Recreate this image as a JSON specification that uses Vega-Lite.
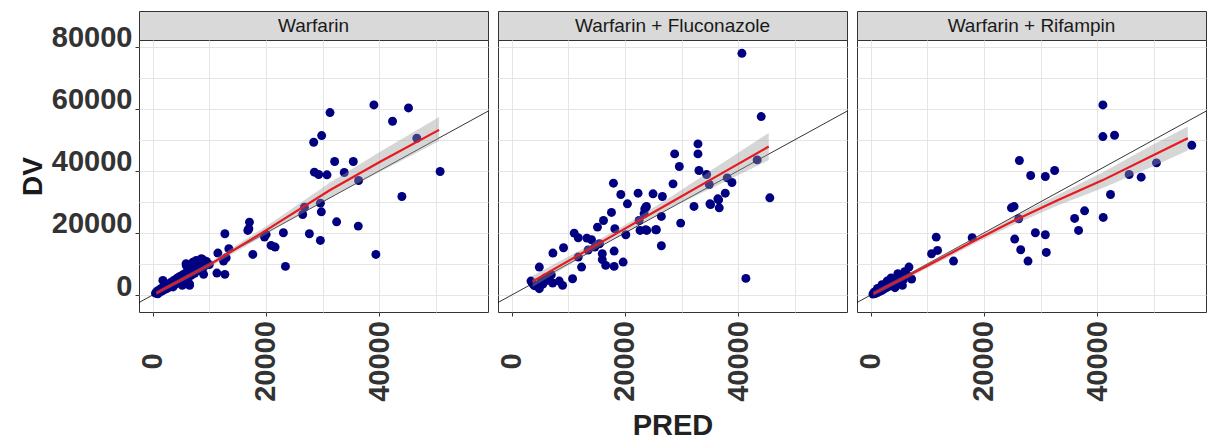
{
"$schema":"https://vega.github.io/schema/vega-lite/v6.json",
"background":"white",
"padding":{"left":18,"top":10,"right":0,"bottom":0},
"config":{"font":"Liberation Sans","view":{"stroke":"#333333","strokeWidth":1}},
"datasets":{
"idl":[{"PRED":-3000,"DV":-3000},{"PRED":62000,"DV":62000}],
"p1":[
{"PRED":39060,"DV":61210},{"PRED":45170,"DV":60250},{"PRED":31310,"DV":58750},{"PRED":42350,"DV":55960},{"PRED":29840,"DV":51350},{"PRED":28430,"DV":49200},{"PRED":46640,"DV":50490},{"PRED":32130,"DV":42990},{"PRED":35420,"DV":42990},{"PRED":50750,"DV":39770},{"PRED":28550,"DV":39560},{"PRED":29310,"DV":38810},{"PRED":30780,"DV":38700},{"PRED":33830,"DV":39450},{"PRED":36360,"DV":36880},{"PRED":44000,"DV":31730},{"PRED":26790,"DV":28300},{"PRED":29610,"DV":29590},{"PRED":26490,"DV":25940},{"PRED":29780,"DV":26800},{"PRED":32480,"DV":23580},{"PRED":36300,"DV":22190},{"PRED":27670,"DV":19720},{"PRED":29610,"DV":17580},{"PRED":23080,"DV":20050},{"PRED":39410,"DV":13080},{"PRED":23440,"DV":9220},{"PRED":20030,"DV":19510},{"PRED":19740,"DV":18650},{"PRED":20910,"DV":15970},{"PRED":21620,"DV":15440},{"PRED":17090,"DV":23480},{"PRED":16980,"DV":21330},{"PRED":16800,"DV":20800},{"PRED":17680,"DV":13080},{"PRED":12750,"DV":19720},{"PRED":13450,"DV":14900},{"PRED":11510,"DV":13510},{"PRED":12980,"DV":12010},{"PRED":12510,"DV":10930},{"PRED":11340,"DV":7080},{"PRED":12750,"DV":6650},{"PRED":8870,"DV":11360},{"PRED":7700,"DV":11150},{"PRED":5930,"DV":9540},{"PRED":6810,"DV":9000},{"PRED":8990,"DV":6650},{"PRED":6520,"DV":3110},{"PRED":5230,"DV":3110},
{"PRED":500,"DV":600},{"PRED":700,"DV":1100},{"PRED":900,"DV":400},{"PRED":1000,"DV":1500},{"PRED":1200,"DV":900},{"PRED":1400,"DV":2000},{"PRED":1600,"DV":1300},{"PRED":1800,"DV":2400},{"PRED":2000,"DV":1700},{"PRED":2200,"DV":2800},{"PRED":2400,"DV":2000},{"PRED":2600,"DV":3300},{"PRED":2800,"DV":2400},{"PRED":3000,"DV":3800},{"PRED":3200,"DV":2800},{"PRED":3400,"DV":4300},{"PRED":3600,"DV":3200},{"PRED":3800,"DV":4800},{"PRED":4000,"DV":3500},{"PRED":4300,"DV":5400},{"PRED":4500,"DV":4100},{"PRED":4800,"DV":6000},{"PRED":5000,"DV":3700},{"PRED":5300,"DV":6500},{"PRED":5600,"DV":5000},{"PRED":5900,"DV":7200},{"PRED":6200,"DV":5600},{"PRED":6500,"DV":8000},{"PRED":6800,"DV":6300},{"PRED":7100,"DV":8800},{"PRED":7400,"DV":7000},{"PRED":7800,"DV":9500},{"PRED":8200,"DV":8000},{"PRED":8600,"DV":10300},{"PRED":9000,"DV":9000},{"PRED":9500,"DV":10800},{"PRED":10000,"DV":9800},{"PRED":5900,"DV":10100},{"PRED":7100,"DV":10600},{"PRED":8600,"DV":11700},{"PRED":3600,"DV":2600},{"PRED":1800,"DV":4700},{"PRED":6500,"DV":3600}
],
"p2":[
{"PRED":40650,"DV":77830},{"PRED":44060,"DV":57460},{"PRED":45580,"DV":31300},{"PRED":41350,"DV":5360},{"PRED":32890,"DV":48670},{"PRED":32890,"DV":45450},{"PRED":28780,"DV":45450},{"PRED":29600,"DV":41380},{"PRED":33070,"DV":40090},{"PRED":34420,"DV":38810},{"PRED":34890,"DV":35590},{"PRED":38060,"DV":37730},{"PRED":38890,"DV":36230},{"PRED":37710,"DV":32800},{"PRED":36540,"DV":30660},{"PRED":35010,"DV":29370},{"PRED":36650,"DV":28090},{"PRED":32190,"DV":28520},{"PRED":28490,"DV":35800},{"PRED":24960,"DV":32590},{"PRED":26610,"DV":31730},{"PRED":22320,"DV":32800},{"PRED":23790,"DV":28520},{"PRED":23380,"DV":26160},{"PRED":17970,"DV":36020},{"PRED":19270,"DV":32370},{"PRED":20440,"DV":29370},{"PRED":17620,"DV":26590},{"PRED":16210,"DV":24010},{"PRED":15150,"DV":21870},{"PRED":11040,"DV":19940},{"PRED":11750,"DV":18440},{"PRED":13270,"DV":18330},{"PRED":14100,"DV":17800},{"PRED":14680,"DV":15440},{"PRED":18210,"DV":21330},{"PRED":20150,"DV":19400},{"PRED":22670,"DV":20800},{"PRED":23850,"DV":20800},{"PRED":25550,"DV":21010},{"PRED":26430,"DV":25300},{"PRED":26430,"DV":15870},{"PRED":29840,"DV":23160},{"PRED":9160,"DV":15220},{"PRED":7280,"DV":13510},{"PRED":16000,"DV":13300},{"PRED":18090,"DV":14150},{"PRED":16000,"DV":11400},{"PRED":16600,"DV":9540},{"PRED":18090,"DV":9220},{"PRED":19680,"DV":10610},{"PRED":12340,"DV":9000},{"PRED":10750,"DV":5250},{"PRED":8400,"DV":4500},{"PRED":8990,"DV":3110},{"PRED":7230,"DV":3860},{"PRED":4880,"DV":9000},{"PRED":3410,"DV":4500},{"PRED":4880,"DV":2040},{"PRED":6340,"DV":4720},{"PRED":11750,"DV":12220},{"PRED":22500,"DV":24010},{"PRED":23500,"DV":27760},{"PRED":43350,"DV":43520},{"PRED":36400,"DV":30990},{"PRED":35120,"DV":29160},{"PRED":23660,"DV":28100},{"PRED":25430,"DV":21030},{"PRED":23660,"DV":21030},{"PRED":4000,"DV":3000},{"PRED":5500,"DV":3500},{"PRED":6000,"DV":5600},{"PRED":7000,"DV":6500},{"PRED":5200,"DV":4300},{"PRED":3700,"DV":3700},{"PRED":13500,"DV":14500},{"PRED":15500,"DV":16500}
],
"p3":[
{"PRED":41000,"DV":61210},{"PRED":41000,"DV":51030},{"PRED":43060,"DV":51460},{"PRED":56690,"DV":48240},{"PRED":50460,"DV":42560},{"PRED":45640,"DV":38810},{"PRED":47760,"DV":37950},{"PRED":42350,"DV":32370},{"PRED":41060,"DV":24980},{"PRED":37770,"DV":27120},{"PRED":36010,"DV":24660},{"PRED":36710,"DV":20800},{"PRED":26260,"DV":43310},{"PRED":28250,"DV":38480},{"PRED":30840,"DV":38160},{"PRED":32480,"DV":40090},{"PRED":24850,"DV":28090},{"PRED":25320,"DV":28520},{"PRED":26140,"DV":24550},{"PRED":25430,"DV":18010},{"PRED":29080,"DV":20050},{"PRED":30840,"DV":19400},{"PRED":26490,"DV":14580},{"PRED":27780,"DV":10930},{"PRED":31010,"DV":13720},{"PRED":17920,"DV":18440},{"PRED":14630,"DV":10930},{"PRED":11570,"DV":18650},{"PRED":11810,"DV":14360},{"PRED":10750,"DV":13290},{"PRED":6760,"DV":9000},{"PRED":7230,"DV":5150},{"PRED":4290,"DV":2360},
{"PRED":400,"DV":300},{"PRED":600,"DV":900},{"PRED":800,"DV":500},{"PRED":1000,"DV":1300},{"PRED":1200,"DV":800},{"PRED":1400,"DV":1700},{"PRED":1600,"DV":1200},{"PRED":1800,"DV":2200},{"PRED":2000,"DV":1500},{"PRED":2200,"DV":2600},{"PRED":2400,"DV":2000},{"PRED":2600,"DV":3100},{"PRED":2800,"DV":2400},{"PRED":3000,"DV":3500},{"PRED":3200,"DV":2800},{"PRED":3500,"DV":4100},{"PRED":3800,"DV":3300},{"PRED":4100,"DV":4700},{"PRED":4400,"DV":3800},{"PRED":4700,"DV":5300},{"PRED":5000,"DV":4400},{"PRED":5400,"DV":6000},{"PRED":5800,"DV":5000},{"PRED":6300,"DV":6800},{"PRED":1200,"DV":2100},{"PRED":2000,"DV":3300},{"PRED":2900,"DV":4500},{"PRED":3600,"DV":5500},{"PRED":4800,"DV":6900},{"PRED":5600,"DV":3100},{"PRED":6000,"DV":7500}
],
"f1":[{"PRED":650,"fit":640,"lo":40,"hi":1240},{"PRED":10000,"fit":9700,"lo":8900,"hi":10500},{"PRED":20000,"fit":20800,"lo":19500,"hi":22100},{"PRED":31190,"fit":33660,"lo":31260,"hi":36060},{"PRED":40000,"fit":42760,"lo":39560,"hi":45960},{"PRED":50570,"fit":53180,"lo":49600,"hi":57300}],
"f2":[{"PRED":3690,"fit":4400,"lo":2600,"hi":6200},{"PRED":12000,"fit":13050,"lo":11750,"hi":14350},{"PRED":20000,"fit":21380,"lo":20180,"hi":22580},{"PRED":28000,"fit":29710,"lo":27910,"hi":31510},{"PRED":36000,"fit":38040,"lo":35040,"hi":41040},{"PRED":45390,"fit":47810,"lo":43410,"hi":52210}],
"f3":[{"PRED":480,"fit":450,"lo":-250,"hi":1150},{"PRED":10000,"fit":9400,"lo":8600,"hi":10200},{"PRED":17800,"fit":17000,"lo":16000,"hi":18000},{"PRED":24560,"fit":23300,"lo":22100,"hi":24500},{"PRED":33000,"fit":30500,"lo":28800,"hi":32200},{"PRED":41000,"fit":37000,"lo":34500,"hi":39500},{"PRED":49800,"fit":44900,"lo":41400,"hi":48400},{"PRED":56000,"fit":50500,"lo":46500,"hi":54300}]
},
"hconcat":[
{"spacing":0,"bounds":"flush","vconcat":[
 {"width":349,"height":29,"data":{"values":[{"t":"Warfarin"}]},"mark":{"type":"text","fontSize":19,"color":"#1a1a1a","font":"Liberation Sans"},"encoding":{"text":{"field":"t"}},"view":{"fill":"#d9d9d9","stroke":"#333333"}},
 {"width":349,"height":272,
  "encoding":{"x":{"field":"PRED","type":"quantitative","scale":{"domain":[-2414,59207],"nice":false,"zero":false},
   "axis":{"values":[0,10000,20000,30000,40000,50000],"format":"d","labelExpr":"datum.value % 20000 === 0 ? datum.label : ''","grid":true,"gridColor":"#e5e5e5","domain":false,"tickSize":4,"tickColor":{"condition":{"test":"datum.value % 20000 !== 0","value":"rgba(0,0,0,0)"},"value":"#333333"},"labelAngle":270,"labelAlign":"center","labelBaseline":"middle","labelPadding":45,"labelFontSize":29,"labelFontWeight":"bold","labelColor":"#333333","labelOverlap":false,"labelFlush":false,"title":null}}},
  "layer":[
   {"data":{"name":"p1"},"mark":{"type":"circle","size":80,"color":"#000080","opacity":1},
    "encoding":{"y":{"field":"DV","type":"quantitative","scale":{"domain":[-5466,82122],"nice":false,"zero":false},
     "axis":{"values":[0,10000,20000,30000,40000,50000,60000,70000,80000],"format":"d","labelExpr":"datum.value % 20000 === 0 ? datum.label : ''","grid":true,"gridColor":"#e5e5e5","domain":false,"tickSize":4,"tickColor":{"condition":{"test":"datum.value % 20000 !== 0","value":"rgba(0,0,0,0)"},"value":"#333333"},"labelPadding":3,"labelBaseline":"alphabetic","labelFontSize":29,"labelFontWeight":"bold","labelColor":"#333333","labelOverlap":false,"labelFlush":false,"title":"DV","titleFontSize":28,"titleFontWeight":"bold","titleColor":"#1a1a1a","titlePadding":4}}}},
   {"data":{"name":"idl"},"mark":{"type":"line","color":"#000000","strokeWidth":0.8,"clip":true},
    "encoding":{"y":{"field":"DV","type":"quantitative","scale":{"domain":[-5466,82122],"nice":false,"zero":false},
     "axis":{"values":[0,10000,20000,30000,40000,50000,60000,70000,80000],"format":"d","labelExpr":"datum.value % 20000 === 0 ? datum.label : ''","grid":true,"gridColor":"#e5e5e5","domain":false,"tickSize":4,"tickColor":{"condition":{"test":"datum.value % 20000 !== 0","value":"rgba(0,0,0,0)"},"value":"#333333"},"labelPadding":3,"labelBaseline":"alphabetic","labelFontSize":29,"labelFontWeight":"bold","labelColor":"#333333","labelOverlap":false,"labelFlush":false,"title":"DV","titleFontSize":28,"titleFontWeight":"bold","titleColor":"#1a1a1a","titlePadding":4}}}},
   {"data":{"name":"f1"},"mark":{"type":"area","color":"#999999","opacity":0.4},
    "encoding":{"y":{"field":"lo","type":"quantitative","scale":{"domain":[-5466,82122],"nice":false,"zero":false},
     "axis":{"values":[0,10000,20000,30000,40000,50000,60000,70000,80000],"format":"d","labelExpr":"datum.value % 20000 === 0 ? datum.label : ''","grid":true,"gridColor":"#e5e5e5","domain":false,"tickSize":4,"tickColor":{"condition":{"test":"datum.value % 20000 !== 0","value":"rgba(0,0,0,0)"},"value":"#333333"},"labelPadding":3,"labelBaseline":"alphabetic","labelFontSize":29,"labelFontWeight":"bold","labelColor":"#333333","labelOverlap":false,"labelFlush":false,"title":"DV","titleFontSize":28,"titleFontWeight":"bold","titleColor":"#1a1a1a","titlePadding":4}},"y2":{"field":"hi"}}},
   {"data":{"name":"f1"},"mark":{"type":"line","color":"#e8191f","strokeWidth":2.2},
    "encoding":{"y":{"field":"fit","type":"quantitative","scale":{"domain":[-5466,82122],"nice":false,"zero":false},
     "axis":{"values":[0,10000,20000,30000,40000,50000,60000,70000,80000],"format":"d","labelExpr":"datum.value % 20000 === 0 ? datum.label : ''","grid":true,"gridColor":"#e5e5e5","domain":false,"tickSize":4,"tickColor":{"condition":{"test":"datum.value % 20000 !== 0","value":"rgba(0,0,0,0)"},"value":"#333333"},"labelPadding":3,"labelBaseline":"alphabetic","labelFontSize":29,"labelFontWeight":"bold","labelColor":"#333333","labelOverlap":false,"labelFlush":false,"title":"DV","titleFontSize":28,"titleFontWeight":"bold","titleColor":"#1a1a1a","titlePadding":4}}}}
  ]}
]},
{"spacing":0,"bounds":"flush","vconcat":[
 {"width":349,"height":29,"data":{"values":[{"t":"Warfarin + Fluconazole"}]},"mark":{"type":"text","fontSize":19,"color":"#1a1a1a","font":"Liberation Sans"},"encoding":{"text":{"field":"t"}},"view":{"fill":"#d9d9d9","stroke":"#333333"}},
 {"width":349,"height":272,
  "encoding":{"x":{"field":"PRED","type":"quantitative","scale":{"domain":[-2414,59207],"nice":false,"zero":false},
   "axis":{"values":[0,10000,20000,30000,40000,50000],"format":"d","labelExpr":"datum.value % 20000 === 0 ? datum.label : ''","grid":true,"gridColor":"#e5e5e5","domain":false,"tickSize":4,"tickColor":{"condition":{"test":"datum.value % 20000 !== 0","value":"rgba(0,0,0,0)"},"value":"#333333"},"labelAngle":270,"labelAlign":"center","labelBaseline":"middle","labelPadding":45,"labelFontSize":29,"labelFontWeight":"bold","labelColor":"#333333","labelOverlap":false,"labelFlush":false,"title":"PRED","titleFontSize":29,"titleFontWeight":"bold","titleColor":"#222222","titlePadding":10}}},
  "layer":[
   {"data":{"name":"p2"},"mark":{"type":"circle","size":80,"color":"#000080","opacity":1},
    "encoding":{"y":{"field":"DV","type":"quantitative","scale":{"domain":[-5466,82122],"nice":false,"zero":false},
     "axis":{"values":[0,10000,20000,30000,40000,50000,60000,70000,80000],"grid":true,"gridColor":"#e5e5e5","labels":false,"ticks":false,"domain":false,"title":null}}}},
   {"data":{"name":"idl"},"mark":{"type":"line","color":"#000000","strokeWidth":0.8,"clip":true},
    "encoding":{"y":{"field":"DV","type":"quantitative","scale":{"domain":[-5466,82122],"nice":false,"zero":false},
     "axis":{"values":[0,10000,20000,30000,40000,50000,60000,70000,80000],"grid":true,"gridColor":"#e5e5e5","labels":false,"ticks":false,"domain":false,"title":null}}}},
   {"data":{"name":"f2"},"mark":{"type":"area","color":"#999999","opacity":0.4},
    "encoding":{"y":{"field":"lo","type":"quantitative","scale":{"domain":[-5466,82122],"nice":false,"zero":false},
     "axis":{"values":[0,10000,20000,30000,40000,50000,60000,70000,80000],"grid":true,"gridColor":"#e5e5e5","labels":false,"ticks":false,"domain":false,"title":null}},"y2":{"field":"hi"}}},
   {"data":{"name":"f2"},"mark":{"type":"line","color":"#e8191f","strokeWidth":2.2},
    "encoding":{"y":{"field":"fit","type":"quantitative","scale":{"domain":[-5466,82122],"nice":false,"zero":false},
     "axis":{"values":[0,10000,20000,30000,40000,50000,60000,70000,80000],"grid":true,"gridColor":"#e5e5e5","labels":false,"ticks":false,"domain":false,"title":null}}}}
  ]}
]},
{"spacing":0,"bounds":"flush","vconcat":[
 {"width":349,"height":29,"data":{"values":[{"t":"Warfarin + Rifampin"}]},"mark":{"type":"text","fontSize":19,"color":"#1a1a1a","font":"Liberation Sans"},"encoding":{"text":{"field":"t"}},"view":{"fill":"#d9d9d9","stroke":"#333333"}},
 {"width":349,"height":272,
  "encoding":{"x":{"field":"PRED","type":"quantitative","scale":{"domain":[-2414,59207],"nice":false,"zero":false},
   "axis":{"values":[0,10000,20000,30000,40000,50000],"format":"d","labelExpr":"datum.value % 20000 === 0 ? datum.label : ''","grid":true,"gridColor":"#e5e5e5","domain":false,"tickSize":4,"tickColor":{"condition":{"test":"datum.value % 20000 !== 0","value":"rgba(0,0,0,0)"},"value":"#333333"},"labelAngle":270,"labelAlign":"center","labelBaseline":"middle","labelPadding":45,"labelFontSize":29,"labelFontWeight":"bold","labelColor":"#333333","labelOverlap":false,"labelFlush":false,"title":null}}},
  "layer":[
   {"data":{"name":"p3"},"mark":{"type":"circle","size":80,"color":"#000080","opacity":1},
    "encoding":{"y":{"field":"DV","type":"quantitative","scale":{"domain":[-5466,82122],"nice":false,"zero":false},
     "axis":{"values":[0,10000,20000,30000,40000,50000,60000,70000,80000],"grid":true,"gridColor":"#e5e5e5","labels":false,"ticks":false,"domain":false,"title":null}}}},
   {"data":{"name":"idl"},"mark":{"type":"line","color":"#000000","strokeWidth":0.8,"clip":true},
    "encoding":{"y":{"field":"DV","type":"quantitative","scale":{"domain":[-5466,82122],"nice":false,"zero":false},
     "axis":{"values":[0,10000,20000,30000,40000,50000,60000,70000,80000],"grid":true,"gridColor":"#e5e5e5","labels":false,"ticks":false,"domain":false,"title":null}}}},
   {"data":{"name":"f3"},"mark":{"type":"area","color":"#999999","opacity":0.4},
    "encoding":{"y":{"field":"lo","type":"quantitative","scale":{"domain":[-5466,82122],"nice":false,"zero":false},
     "axis":{"values":[0,10000,20000,30000,40000,50000,60000,70000,80000],"grid":true,"gridColor":"#e5e5e5","labels":false,"ticks":false,"domain":false,"title":null}},"y2":{"field":"hi"}}},
   {"data":{"name":"f3"},"mark":{"type":"line","color":"#e8191f","strokeWidth":2.2},
    "encoding":{"y":{"field":"fit","type":"quantitative","scale":{"domain":[-5466,82122],"nice":false,"zero":false},
     "axis":{"values":[0,10000,20000,30000,40000,50000,60000,70000,80000],"grid":true,"gridColor":"#e5e5e5","labels":false,"ticks":false,"domain":false,"title":null}}}}
  ]}
]}
],
"spacing":8
}
